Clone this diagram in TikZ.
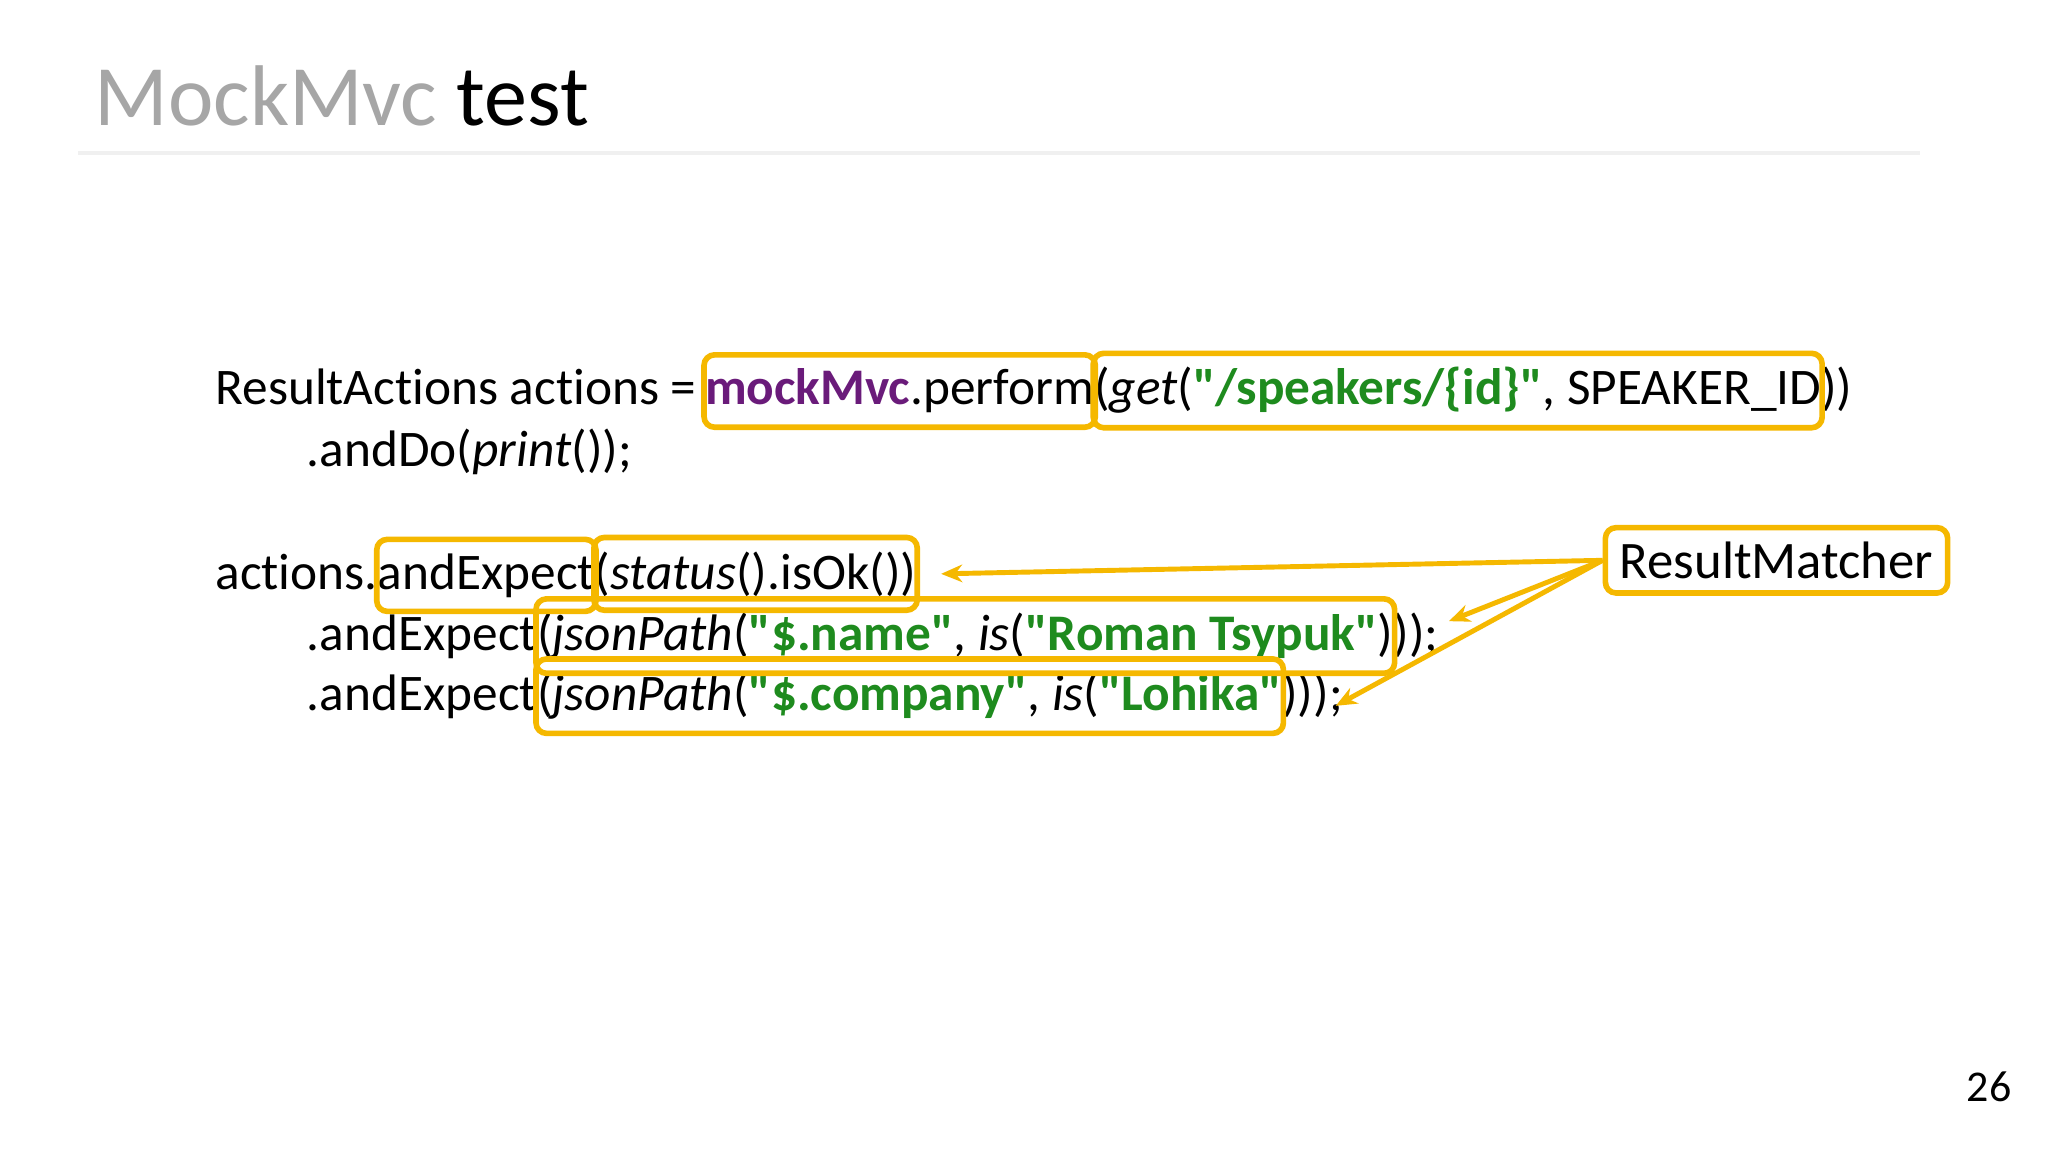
\documentclass[tikz,border=0pt]{standalone}
\usepackage{fontspec}
\setmainfont{Carlito}[Ligatures={TeXOff,NoCommon}]
\usetikzlibrary{fit,arrows.meta}
\definecolor{hl}{HTML}{F5B800}
\definecolor{grn}{HTML}{1E8B1E}
\definecolor{prp}{HTML}{6A1B7A}
\newcommand{\codefont}{\fontsize{14.6}{18}\selectfont}
\tikzset{
 t/.style={inner sep=0pt,outer sep=0pt,anchor=base west,font=\codefont},
 hbox/.style={draw=hl,line width=1.6pt,rounded corners=3pt,inner xsep=0.3pt,inner ysep=4pt},
 arr/.style={draw=hl,line width=1.4pt,-{Stealth[length=6pt,width=5pt]}}
}
\begin{document}
\begin{tikzpicture}[x=0.01306cm,y=-0.01306cm]
\useasboundingbox[fill=white] (0,0) rectangle (1568,882);
% title
\node[inner sep=0,anchor=base west,font=\fontsize{24.5}{30}\selectfont] (title) at (72,96) {\textcolor[HTML]{A6A6A6}{MockMvc} test};
\draw[draw=black!6,line width=1.2pt] (60,117) -- (1470,117);
% line 1
\node[t] (a1) at (165,310) {ResultActions actions =\,};
\node[t] (a2) at (a1.base east) {\textbf{\textcolor{prp}{mockMvc}}.perform};
\node[t] (a3) at (a2.base east) {(\textit{get}(\textbf{\textcolor{grn}{"/speakers/\{id\}"}}, SPEAKER\_ID};
\node[t] (a4) at (a3.base east) {))};
% line 2
\node[t] (b1) at (235,357) {.andDo(\textit{print}());};
% line 3
\node[t] (c1) at (165,451) {actions.};
\node[t] (c2) at (c1.base east) {andExpect};
\node[t] (c3) at (c2.base east) {(\textit{status}().isOk())};
% line 4
\node[t] (d1) at (235,498) {.andExpect};
\node[t] (d2) at (d1.base east) {(\textit{jsonPath}(\textbf{\textcolor{grn}{"\$.name"}}, \textit{is}(\textbf{\textcolor{grn}{"Roman Tsypuk"}})};
\node[t] (d3) at (d2.base east) {));};
% line 5
\node[t] (e1) at (235,544) {.andExpect};
\node[t] (e2) at (e1.base east) {(\textit{jsonPath}(\textbf{\textcolor{grn}{"\$.company"}}, \textit{is}(\textbf{\textcolor{grn}{"Lohika"}}};
\node[t] (e3) at (e2.base east) {)));};
% boxes
\node[hbox,fit=(a2)] (ba2) {};
\node[hbox,fit=(a3)] (ba3) {};
\node[hbox,fit=(c2)] (bc2) {};
\node[hbox,fit=(c3)] (bc3) {};
\node[hbox,fit=(d2)] (bd2) {};
\node[hbox,fit=(e2)] (be2) {};
% ResultMatcher
\node[draw=hl,line width=1.6pt,rounded corners=3pt,font=\fontsize{15}{18}\selectfont,minimum width=262*0.01306cm,minimum height=50*0.01306cm,anchor=west] (rm) at (1227,429) {ResultMatcher};
\coordinate (t1) at ([xshift=6pt]bc3.east);
\coordinate (t2) at ([xshift=3pt,yshift=4pt]d3.east);
\coordinate (t3) at ([xshift=-2pt,yshift=-3pt]e3.east);
\draw[arr] (rm.west) -- (t1);
\draw[arr] (rm.west) -- (t2);
\draw[arr] (rm.west) -- (t3);
% page number
\node[inner sep=0,font=\fontsize{12.5}{15}\selectfont] (pn) at (1523,832) {26};
\end{tikzpicture}
\end{document}
